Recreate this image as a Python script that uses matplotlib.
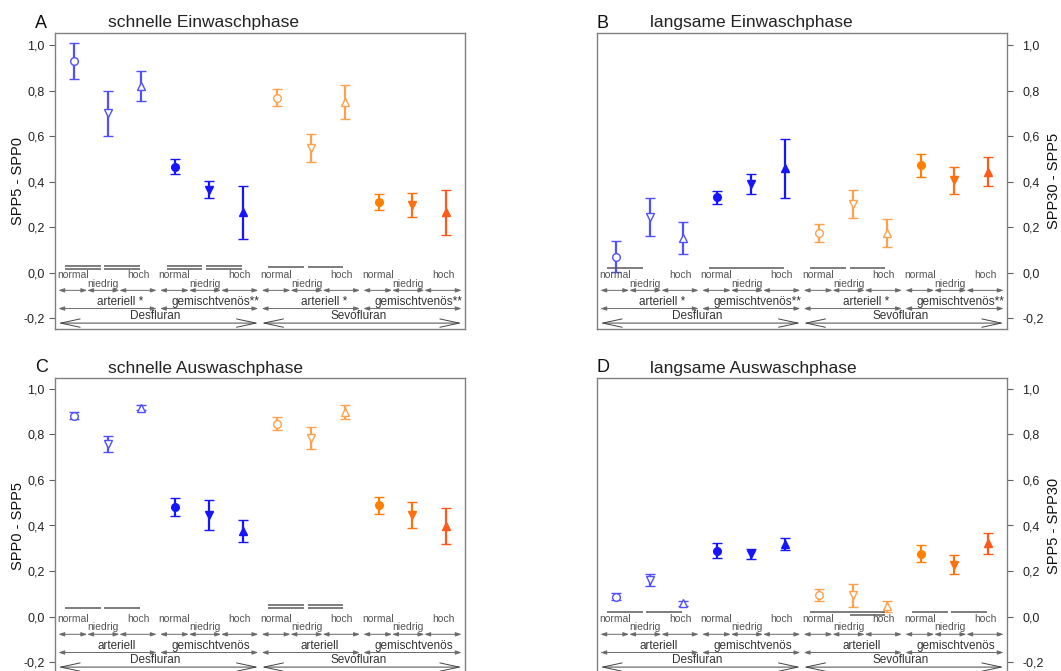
import matplotlib.pyplot as plt

plt.rcParams['font.family'] = ['Liberation Sans', 'DejaVu Sans']
plt.rcParams['axes.unicode_minus'] = False

# categories: 2 anaesthetics x 2 sampling sites x 3 ventilation levels
levels = ['normal', 'niedrig', 'hoch']
sites_star = ['arteriell *', 'gemischtvenös**']
sites_plain = ['arteriell', 'gemischtvenös']
drugs = ['Desfluran', 'Sevofluran']
markers = ['o', 'v', '^'] * 4
filled = [False] * 3 + [True] * 3 + [False] * 3 + [True] * 3
colors = ['#5050ff'] * 3 + ['#1515ff'] * 3 + ['#ffa04d'] * 3 + ['#ff8000', '#ff7010', '#ff5a1a']

# A: schnelle Einwaschphase (SPP5 - SPP0)
mean_A = [0.93, 0.70, 0.82, 0.465, 0.365, 0.265, 0.77, 0.548, 0.75, 0.311, 0.297, 0.265]
err_A = [0.078, 0.10, 0.065, 0.033, 0.036, 0.118, 0.039, 0.06, 0.076, 0.034, 0.053, 0.099]
# B: langsame Einwaschphase (SPP30 - SPP5)
mean_B = [0.07, 0.244, 0.153, 0.331, 0.391, 0.458, 0.173, 0.302, 0.175, 0.472, 0.406, 0.444]
err_B = [0.068, 0.084, 0.071, 0.029, 0.043, 0.13, 0.04, 0.06, 0.062, 0.05, 0.059, 0.063]
# C: schnelle Auswaschphase (SPP0 - SPP5)
mean_C = [0.883, 0.758, 0.918, 0.481, 0.445, 0.375, 0.848, 0.784, 0.898, 0.488, 0.446, 0.398]
err_C = [0.016, 0.037, 0.012, 0.04, 0.065, 0.047, 0.027, 0.05, 0.031, 0.036, 0.058, 0.08]
# D: langsame Auswaschphase (SPP5 - SPP30)
mean_D = [0.088, 0.16, 0.058, 0.29, 0.275, 0.318, 0.096, 0.093, 0.045, 0.276, 0.228, 0.321]
err_D = [0.016, 0.025, 0.012, 0.032, 0.021, 0.026, 0.026, 0.05, 0.024, 0.038, 0.042, 0.048]

# significance bars: (from index, to index, stack level)
sig_A = [(0, 1, 0), (0, 1, 1), (1, 2, 0), (1, 2, 1), (3, 4, 0), (3, 4, 1), (4, 5, 0), (4, 5, 1),
         (6, 7, 0.5), (7, 8, 0.5)]
sig_B = [(0, 1, 0), (3, 5, 0), (6, 7, 0), (7, 8, 0)]
sig_C = [(0, 1, 1), (1, 2, 1), (6, 7, 0), (6, 7, 1), (7, 8, 0), (7, 8, 1)]
sig_D = [(0, 1, 0), (1, 2, 0), (6, 8, 0), (7, 8, 1), (9, 10, 0), (10, 11, 0)]

panels = [
    ('A', 'schnelle Einwaschphase', 'SPP5 - SPP0', mean_A, err_A, sig_A, sites_star, 0.03, 'left'),
    ('B', 'langsame Einwaschphase', 'SPP30 - SPP5', mean_B, err_B, sig_B, sites_star, 0.019, 'right'),
    ('C', 'schnelle Auswaschphase', 'SPP0 - SPP5', mean_C, err_C, sig_C, sites_plain, 0.05, 'left'),
    ('D', 'langsame Auswaschphase', 'SPP5 - SPP30', mean_D, err_D, sig_D, sites_plain, 0.019, 'right'),
]

W, H = 1061, 671
fig = plt.figure(figsize=(W / 100, H / 100), dpi=100)

# pixel boxes (left, top, right, bottom)
boxes = [(55, 33, 465, 329), (597, 33, 1007, 329), (55, 378, 465, 673), (597, 378, 1007, 673)]
ylims = [(-0.248, 1.054), (-0.248, 1.054), (-0.248, 1.048), (-0.248, 1.048)]

grey_txt = '#555555'
dark_txt = '#333333'
arr_col = '#6a6a6a'

for (letter, title, ylab, mean, err, sig, sites, sig_y, side), box, yl in zip(panels, boxes, ylims):
    l, t, r, b = box
    ax = fig.add_axes([l / W, 1 - b / H, (r - l) / W, (b - t) / H])
    x = list(range(len(mean)))
    for i in x:
        ax.errorbar(x[i], mean[i], yerr=err[i], fmt=markers[i], color=colors[i],
                    mfc=colors[i] if filled[i] else 'white', mec=colors[i],
                    ms=5.5, mew=1.0, capsize=3.8,
                    elinewidth=1.6, capthick=1.4)
    ax.set_xlim(-0.55, 11.55)
    ax.set_ylim(*yl)
    ax.set_xticks([])
    ticks = [-0.2, 0.0, 0.2, 0.4, 0.6, 0.8, 1.0]
    ax.set_yticks(ticks)
    ax.set_yticklabels([f'{v:.1f}'.replace('.', ',') for v in ticks])
    for s in ax.spines.values():
        s.set_color('#808080')
        s.set_linewidth(1.0)
    if side == 'right':
        ax.yaxis.tick_right()
        ax.yaxis.set_label_position('right')
        ax.tick_params(axis='y', direction='out', length=4, pad=7, labelsize=9,
                       color='#606060', labelcolor='#222222')
        ax.set_ylabel(ylab, fontsize=10.5, color='#111111', rotation=90)
        ax.yaxis.set_label_coords(1.097, 0.5)
    else:
        ax.tick_params(axis='y', direction='out', length=4, pad=3.5, labelsize=9,
                       color='#606060', labelcolor='#222222')
        ax.set_ylabel(ylab, fontsize=10.5, color='#111111')
        ax.yaxis.set_label_coords(-0.074, 0.5)

    # significance bars, placed inside each triplet of categories
    for a, c, lev in sig:
        k = a // 3
        L = 3 * k - 0.45
        x0 = L + 0.2 + 1.16 * (a - 3 * k)
        x1 = L + 0.2 + 1.16 * (c - 3 * k - 1) + 1.05
        yy = sig_y - lev * 0.013
        ax.plot([x0, x1], [yy, yy], color='#5a5a5a', lw=1.1, solid_capstyle='butt')

    # category annotation rows
    for k in range(4):
        L = 3 * k - 0.45
        bnd = [L, L + 0.85, L + 1.8, L + 2.9]
        for j in range(3):
            xc = (bnd[j] + bnd[j + 1]) / 2
            ax.text(xc, -0.012 if j != 1 else -0.048, levels[j], ha='center', va='center',
                    fontsize=7.5, color=grey_txt)
            ax.annotate('', xy=(bnd[j + 1], -0.078), xytext=(bnd[j], -0.078),
                        arrowprops=dict(arrowstyle='<|-|>,head_length=0.35,head_width=0.12',
                                        color=arr_col, lw=0.7, shrinkA=0, shrinkB=0),
                        annotation_clip=False)
        ax.annotate('', xy=(L + 2.9, -0.158), xytext=(L, -0.158),
                    arrowprops=dict(arrowstyle='<|-|>,head_length=0.35,head_width=0.12',
                                    color=arr_col, lw=0.7, shrinkA=0, shrinkB=0),
                    annotation_clip=False)
        ax.text(L + (1.15 if k % 2 == 0 else 0.33), -0.128, sites[k % 2], ha='left',
                va='center', fontsize=8.5, color=dark_txt)
    for d in range(2):
        L = 6 * d - 0.45
        ax.annotate('', xy=(L + 5.9, -0.222), xytext=(L, -0.222),
                    arrowprops=dict(arrowstyle='<->,head_length=1.4,head_width=0.3',
                                    color='#444444', lw=0.7, shrinkA=0, shrinkB=0),
                    annotation_clip=False)
        ax.text(L + 2.85, -0.192, drugs[d], ha='center', va='center', fontsize=8.5,
                color=dark_txt)

    # panel letter and title
    ty = 1 - (t - 10) / H
    fig.text((l - 20 if side == 'left' else l) / W, ty, letter, fontsize=13,
             ha='left', va='center', color='#111111')
    fig.text((l + 53) / W, ty, title, fontsize=12.5, ha='left', va='center', color='#222222')

fig.savefig('out.png', dpi=100)
